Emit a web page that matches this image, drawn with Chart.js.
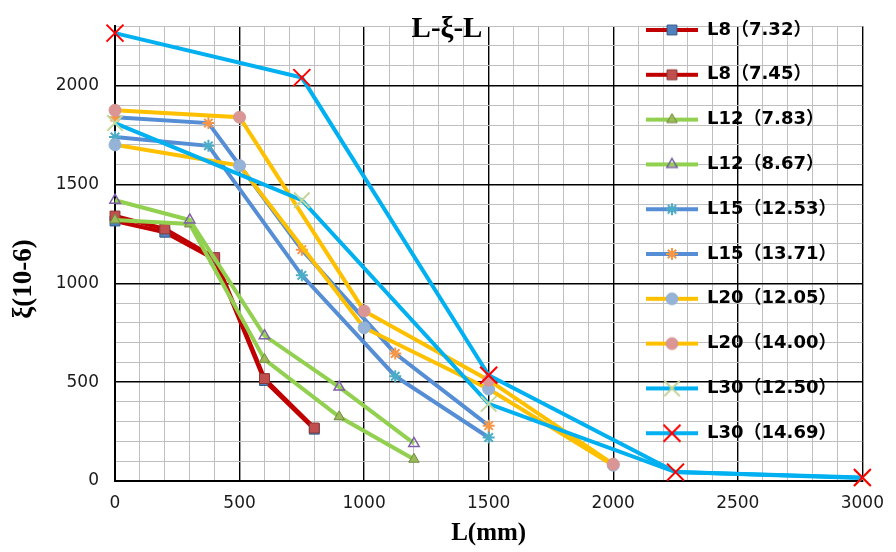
<!DOCTYPE html>
<html>
<head>
<meta charset="utf-8">
<script src="https://cdn.jsdelivr.net/npm/chart.js@4.4.0/dist/chart.umd.min.js"></script>
<style>
  html, body { margin: 0; padding: 0; background: #fff; }
</style>
</head>
<body>
<canvas id="myChart" width="896" height="552"></canvas>
<script>
let chartTitle = 'L-ξ-L'
let xTitle = 'L(mm)'
let yTitle = 'ξ(10-6)'

let seriesNames = ['L8（7.32）', 'L8（7.45）', 'L12（7.83）', 'L12（8.67）', 'L15（12.53）',
                   'L15（13.71）', 'L20（12.05）', 'L20（14.00）', 'L30（12.50）', 'L30（14.69）']

// L (mm) / strain pairs
let l8aX = [0, 200, 400, 600, 800]
let l8aY = [1315, 1258, 1122, 508, 262]
let l8bX = [0, 200, 400, 600, 800]
let l8bY = [1340, 1275, 1130, 518, 268]
let l12aX = [0, 300, 600, 900, 1200]
let l12aY = [1320, 1300, 615, 325, 110]
let l12bX = [0, 300, 600, 900, 1200]
let l12bY = [1420, 1320, 735, 475, 190]
let l15aX = [0, 375, 750, 1125, 1500]
let l15aY = [1740, 1695, 1040, 530, 220]
let l15bX = [0, 375, 750, 1125, 1500]
let l15bY = [1840, 1810, 1170, 645, 280]
let l20aX = [0, 500, 1000, 1500, 2000]
let l20aY = [1700, 1595, 775, 465, 80]
let l20bX = [0, 500, 1000, 1500, 2000]
let l20bY = [1875, 1840, 860, 510, 85]
let l30aX = [0, 750, 1500, 2250, 3000]
let l30aY = [1810, 1420, 390, 45, 15]
let l30bX = [0, 750, 1500, 2250, 3000]
let l30bY = [2265, 2040, 535, 45, 18]

let allX = [l8aX, l8bX, l12aX, l12bX, l15aX, l15bX, l20aX, l20bX, l30aX, l30bX]
let allY = [l8aY, l8bY, l12aY, l12bY, l15aY, l15bY, l20aY, l20bY, l30aY, l30bY]

// styles
let lineColors = ['#C00000', '#C00000', '#92D050', '#92D050', '#558ED5',
                  '#558ED5', '#FFC000', '#FFC000', '#00B0F0', '#00B0F0']
let markerStyles = ['rect', 'rect', 'triangle', 'triangle', 'star',
                    'star', 'circle', 'circle', 'crossRot', 'crossRot']
let markerFills = ['#4F81BD', '#C0504D', '#9BBB59', 'rgba(255,255,255,0)', '#4BACC6',
                   '#F79646', '#95B3D7', '#D99694', '#C3D69B', '#FF0000']
let markerBorders = ['#385D8A', '#8C3836', '#71893F', '#7E5FA8', '#4BACC6',
                     '#F79646', '#95B3D7', '#D99694', '#C3D69B', '#FF0000']
let markerSizes = [7, 7, 6, 6, 6, 6, 6, 6, 11, 12]
let markerBorderW = [1, 1, 1, 1.5, 2, 2, 1, 1, 2, 2]

function makeIcon(i) {
    let c = document.createElement('canvas')
    c.width = 52
    c.height = 28
    let g = c.getContext('2d')
    g.strokeStyle = lineColors[i]
    g.lineWidth = 4
    g.beginPath()
    g.moveTo(0, 14)
    g.lineTo(52, 14)
    g.stroke()
    g.fillStyle = markerFills[i]
    g.strokeStyle = markerBorders[i]
    g.lineWidth = markerBorderW[i]
    Chart.helpers.drawPoint(g, {
        pointStyle: markerStyles[i],
        radius: markerSizes[i],
        rotation: 0,
        borderWidth: markerBorderW[i]
    }, 26, 14)
    return c
}
let icons = seriesNames.map((n, i) => makeIcon(i))

let datasets = seriesNames.map((name, i) => ({
    label: name,
    data: allX[i].map((x, j) => ({ x: x, y: allY[i][j] })),
    showLine: true,
    fill: false,
    tension: 0,
    borderColor: lineColors[i],
    borderWidth: 4,
    pointStyle: markerStyles[i],
    pointRadius: markerSizes[i],
    pointBackgroundColor: markerFills[i],
    pointBorderColor: markerBorders[i],
    pointBorderWidth: markerBorderW[i],
    clip: false,
    order: seriesNames.length - 1 - i
}))

let gridColor = c => (c.tick && c.tick.value % 500 === 0) ? '#000000' : '#BFBFBF'
let gridWidth = c => (c.tick && c.tick.value % 500 === 0) ? 1.4 : 1

const textPlugin = {
    id: 'texts',
    afterLayout(chart) {
        // put the legend inside the plot, on the right
        let lg = chart.legend
        let pad = 26.8
        lg.left = 646 - pad
        lg.top = 21 - pad
        lg.right = 896
        lg.bottom = 552
        lg.width = lg.right - lg.left
        lg.height = lg.bottom - lg.top
    },
    afterDraw(chart) {
        let ctx = chart.ctx
        ctx.save()
        ctx.fillStyle = '#000'
        ctx.textAlign = 'center'
        ctx.textBaseline = 'alphabetic'
        ctx.font = 'bold 29px "Liberation Serif"'
        ctx.fillText(chartTitle, 447, 37)
        ctx.translate(24, 279)
        ctx.rotate(-Math.PI / 2)
        ctx.textBaseline = 'middle'
        ctx.font = 'bold 27px "Liberation Serif"'
        ctx.fillText(yTitle, 0, 0)
        ctx.restore()
    }
}

Chart.defaults.font.family = '"DejaVu Sans"'

let chart = new Chart(document.getElementById('myChart'), {
    type: 'line',
    data: { datasets: datasets },
    plugins: [textPlugin],
    options: {
        responsive: false,
        animation: false,
        events: [],
        layout: { padding: { top: 4, right: 30, left: 0, bottom: 0 } },
        scales: {
            x: {
                type: 'linear',
                min: 0,
                max: 3000,
                afterFit: s => { s.height = 71 },
                ticks: {
                    stepSize: 100,
                    autoSkip: false,
                    maxRotation: 0,
                    padding: 12,
                    color: '#1a1a1a',
                    font: { size: 17 },
                    callback: v => v % 500 === 0 ? v : ''
                },
                grid: { color: gridColor, lineWidth: gridWidth, drawTicks: false },
                border: { color: '#000', width: 2 },
                title: {
                    display: true,
                    text: xTitle,
                    color: '#000',
                    font: { family: '"Liberation Serif"', size: 25, weight: 'bold' },
                    padding: { top: 0, bottom: 3 }
                }
            },
            y: {
                min: 0,
                max: 2300,
                afterFit: s => { s.width = 115 },
                ticks: {
                    stepSize: 100,
                    maxTicksLimit: 100,
                    autoSkip: false,
                    padding: 16,
                    color: '#1a1a1a',
                    font: { size: 17 },
                    callback: v => v % 500 === 0 ? v : ''
                },
                grid: { color: gridColor, lineWidth: gridWidth, drawTicks: false },
                border: { color: '#000', width: 2 }
            }
        },
        plugins: {
            tooltip: { enabled: false },
            legend: {
                position: 'chartArea',
                align: 'start',
                labels: {
                    usePointStyle: true,
                    pointStyleWidth: 52,
                    padding: 26.8,
                    color: '#000',
                    font: { family: '"DejaVu Sans", "Noto Sans CJK SC"', size: 18, weight: 'bold' },
                    generateLabels: c => c.data.datasets.map((ds, i) => ({
                        text: ds.label,
                        pointStyle: icons[i],
                        fillStyle: 'rgba(0,0,0,0)',
                        strokeStyle: 'rgba(0,0,0,0)',
                        lineWidth: 0,
                        hidden: false,
                        datasetIndex: i
                    }))
                }
            }
        }
    }
})
</script>
</body>
</html>
